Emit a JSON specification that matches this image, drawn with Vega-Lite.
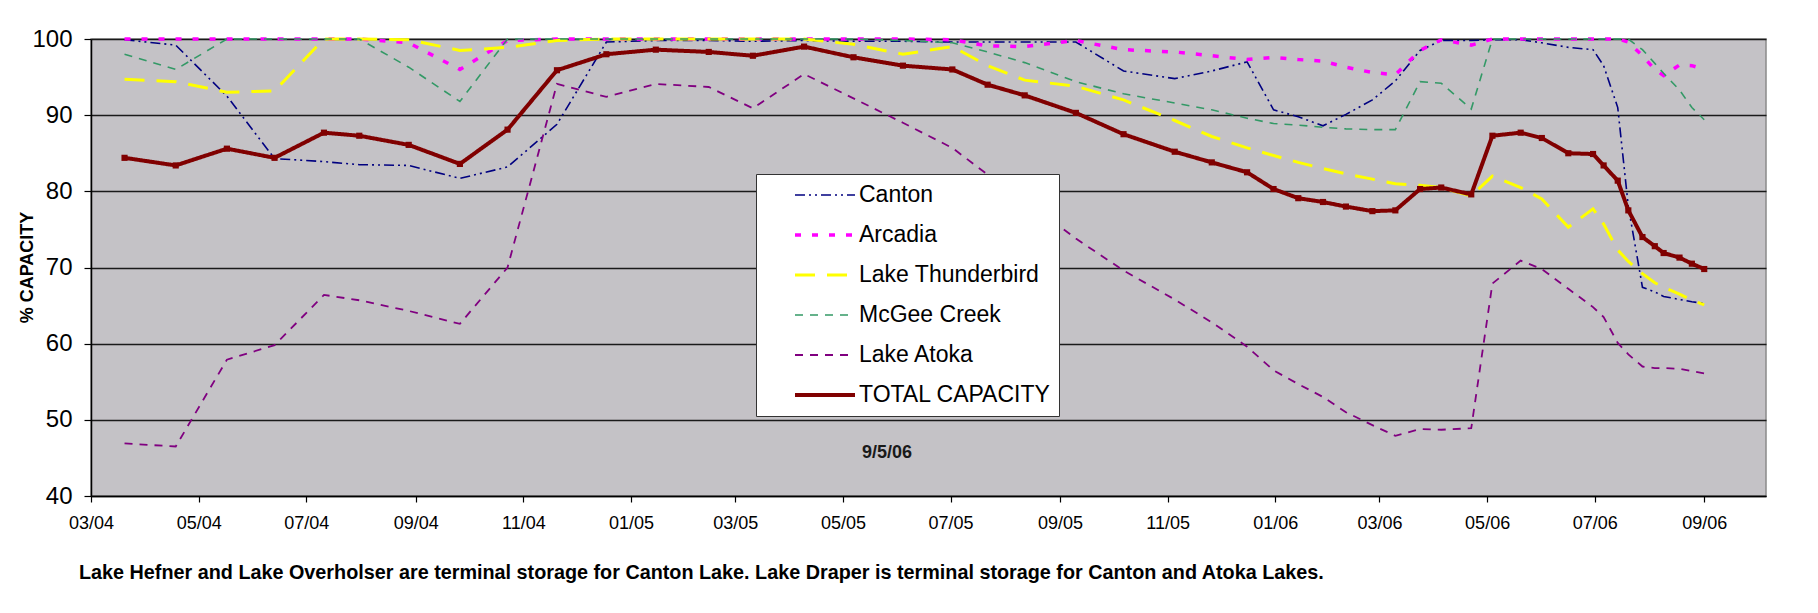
{
  "$schema": "https://vega.github.io/schema/vega-lite/v6.json",
  "width": 1675,
  "height": 457,
  "autosize": {"type": "none"},
  "padding": {"left": 91, "top": 39, "right": 52, "bottom": 117},
  "background": "white",
  "view": {"fill": "#C4C2C6", "stroke": "#8a8a8a", "strokeWidth": 1.5},
  "config": {
    "font": "Liberation Sans",
    "axis": {"labelFont": "Liberation Sans", "titleFont": "Liberation Sans", "labelColor": "black", "titleColor": "black"},
    "legend": {"labelFont": "Liberation Sans"}
  },
  "title": {
    "text": "Lake Hefner and Lake Overholser are terminal storage for Canton Lake. Lake Draper is terminal storage for Canton and Atoka Lakes.",
    "orient": "bottom",
    "anchor": "start",
    "frame": "group",
    "offset": 31,
    "dx": -12,
    "baseline": "top",
    "fontSize": 19.8,
    "fontWeight": "bold",
    "font": "Liberation Sans",
    "color": "black"
  },
  "datasets": {
    "lakes": [
      {"date": "2004-03-20", "Canton": 99.9, "Arcadia": 100, "Lake Thunderbird": 94.7, "McGee Creek": 98.0, "Lake Atoka": 46.9, "TOTAL CAPACITY": 84.4},
      {"date": "2004-04-18", "Canton": 99.2, "Arcadia": 100, "Lake Thunderbird": 94.4, "McGee Creek": 96.0, "Lake Atoka": 46.5, "TOTAL CAPACITY": 83.4},
      {"date": "2004-05-17", "Canton": 92.5, "Arcadia": 100, "Lake Thunderbird": 93.0, "McGee Creek": 100, "Lake Atoka": 57.9, "TOTAL CAPACITY": 85.6},
      {"date": "2004-06-13", "Canton": 84.3, "Arcadia": 100, "Lake Thunderbird": 93.2, "McGee Creek": 100, "Lake Atoka": 59.8, "TOTAL CAPACITY": 84.4},
      {"date": "2004-07-11", "Canton": 83.9, "Arcadia": 100, "Lake Thunderbird": 100, "McGee Creek": 100, "Lake Atoka": 66.4, "TOTAL CAPACITY": 87.7},
      {"date": "2004-07-31", "Canton": 83.5, "Arcadia": 100, "Lake Thunderbird": 100, "McGee Creek": 100, "Lake Atoka": 65.7, "TOTAL CAPACITY": 87.3},
      {"date": "2004-08-28", "Canton": 83.4, "Arcadia": 99.5, "Lake Thunderbird": 99.9, "McGee Creek": 96.3, "Lake Atoka": 64.3, "TOTAL CAPACITY": 86.1},
      {"date": "2004-09-26", "Canton": 81.7, "Arcadia": 96.0, "Lake Thunderbird": 98.5, "McGee Creek": 91.8, "Lake Atoka": 62.6, "TOTAL CAPACITY": 83.6},
      {"date": "2004-10-23", "Canton": 83.2, "Arcadia": 99.8, "Lake Thunderbird": 98.9, "McGee Creek": 100, "Lake Atoka": 70.0, "TOTAL CAPACITY": 88.1},
      {"date": "2004-11-20", "Canton": 88.8, "Arcadia": 100, "Lake Thunderbird": 99.8, "McGee Creek": 100, "Lake Atoka": 94.1, "TOTAL CAPACITY": 95.9},
      {"date": "2004-12-18", "Canton": 99.6, "Arcadia": 100, "Lake Thunderbird": 100, "McGee Creek": 100, "Lake Atoka": 92.4, "TOTAL CAPACITY": 98.0},
      {"date": "2005-01-15", "Canton": 99.8, "Arcadia": 100, "Lake Thunderbird": 100, "McGee Creek": 100, "Lake Atoka": 94.1, "TOTAL CAPACITY": 98.6},
      {"date": "2005-02-14", "Canton": 99.8, "Arcadia": 100, "Lake Thunderbird": 100, "McGee Creek": 100, "Lake Atoka": 93.7, "TOTAL CAPACITY": 98.3},
      {"date": "2005-03-11", "Canton": 99.7, "Arcadia": 100, "Lake Thunderbird": 100, "McGee Creek": 100, "Lake Atoka": 90.9, "TOTAL CAPACITY": 97.8},
      {"date": "2005-04-09", "Canton": 99.8, "Arcadia": 100, "Lake Thunderbird": 100, "McGee Creek": 100, "Lake Atoka": 95.4, "TOTAL CAPACITY": 99.0},
      {"date": "2005-05-07", "Canton": 99.7, "Arcadia": 100, "Lake Thunderbird": 99.3, "McGee Creek": 100, "Lake Atoka": 92.2, "TOTAL CAPACITY": 97.6},
      {"date": "2005-06-04", "Canton": 99.7, "Arcadia": 100, "Lake Thunderbird": 98.0, "McGee Creek": 99.8, "Lake Atoka": 89.0, "TOTAL CAPACITY": 96.5},
      {"date": "2005-07-02", "Canton": 99.6, "Arcadia": 99.9, "Lake Thunderbird": 99.0, "McGee Creek": 99.5, "Lake Atoka": 85.7, "TOTAL CAPACITY": 96.0},
      {"date": "2005-07-22", "Canton": 99.6, "Arcadia": 99.1, "Lake Thunderbird": 96.5, "McGee Creek": 98.3, "Lake Atoka": 82.2, "TOTAL CAPACITY": 94.0},
      {"date": "2005-08-12", "Canton": 99.6, "Arcadia": 99.0, "Lake Thunderbird": 94.6, "McGee Creek": 96.9, "Lake Atoka": 78.8, "TOTAL CAPACITY": 92.6},
      {"date": "2005-09-10", "Canton": 99.6, "Arcadia": 99.8, "Lake Thunderbird": 93.8, "McGee Creek": 94.4, "Lake Atoka": 73.8, "TOTAL CAPACITY": 90.3},
      {"date": "2005-10-07", "Canton": 95.8, "Arcadia": 98.6, "Lake Thunderbird": 92.0, "McGee Creek": 92.8, "Lake Atoka": 69.6, "TOTAL CAPACITY": 87.5},
      {"date": "2005-11-05", "Canton": 94.8, "Arcadia": 98.3, "Lake Thunderbird": 89.3, "McGee Creek": 91.6, "Lake Atoka": 65.8, "TOTAL CAPACITY": 85.2},
      {"date": "2005-11-26", "Canton": 95.8, "Arcadia": 97.8, "Lake Thunderbird": 87.2, "McGee Creek": 90.7, "Lake Atoka": 62.8, "TOTAL CAPACITY": 83.8},
      {"date": "2005-12-16", "Canton": 97.0, "Arcadia": 97.3, "Lake Thunderbird": 85.7, "McGee Creek": 89.6, "Lake Atoka": 59.6, "TOTAL CAPACITY": 82.5},
      {"date": "2005-12-31", "Canton": 90.7, "Arcadia": 97.6, "Lake Thunderbird": 84.7, "McGee Creek": 88.9, "Lake Atoka": 56.5, "TOTAL CAPACITY": 80.3},
      {"date": "2006-01-14", "Canton": 89.8, "Arcadia": 97.3, "Lake Thunderbird": 83.8, "McGee Creek": 88.7, "Lake Atoka": 54.7, "TOTAL CAPACITY": 79.1},
      {"date": "2006-01-28", "Canton": 88.6, "Arcadia": 97.1, "Lake Thunderbird": 83.0, "McGee Creek": 88.4, "Lake Atoka": 53.0, "TOTAL CAPACITY": 78.6},
      {"date": "2006-02-10", "Canton": 90.1, "Arcadia": 96.3, "Lake Thunderbird": 82.3, "McGee Creek": 88.2, "Lake Atoka": 51.0, "TOTAL CAPACITY": 78.0},
      {"date": "2006-02-25", "Canton": 92.0, "Arcadia": 95.6, "Lake Thunderbird": 81.6, "McGee Creek": 88.1, "Lake Atoka": 49.3, "TOTAL CAPACITY": 77.4},
      {"date": "2006-03-10", "Canton": 94.5, "Arcadia": 95.3, "Lake Thunderbird": 81.0, "McGee Creek": 88.1, "Lake Atoka": 47.9, "TOTAL CAPACITY": 77.5},
      {"date": "2006-03-24", "Canton": 98.5, "Arcadia": 98.5, "Lake Thunderbird": 80.8, "McGee Creek": 94.4, "Lake Atoka": 48.8, "TOTAL CAPACITY": 80.3},
      {"date": "2006-04-05", "Canton": 99.8, "Arcadia": 99.9, "Lake Thunderbird": 80.5, "McGee Creek": 94.2, "Lake Atoka": 48.7, "TOTAL CAPACITY": 80.5},
      {"date": "2006-04-22", "Canton": 99.8, "Arcadia": 99.2, "Lake Thunderbird": 79.4, "McGee Creek": 90.8, "Lake Atoka": 48.9, "TOTAL CAPACITY": 79.6},
      {"date": "2006-05-04", "Canton": 99.9, "Arcadia": 100, "Lake Thunderbird": 82.0, "McGee Creek": 100, "Lake Atoka": 67.9, "TOTAL CAPACITY": 87.3},
      {"date": "2006-05-20", "Canton": 99.9, "Arcadia": 100, "Lake Thunderbird": 80.5, "McGee Creek": 100, "Lake Atoka": 70.9, "TOTAL CAPACITY": 87.7},
      {"date": "2006-06-01", "Canton": 99.5, "Arcadia": 100, "Lake Thunderbird": 79.0, "McGee Creek": 100, "Lake Atoka": 69.8, "TOTAL CAPACITY": 87.0},
      {"date": "2006-06-16", "Canton": 98.9, "Arcadia": 100, "Lake Thunderbird": 75.3, "McGee Creek": 100, "Lake Atoka": 67.2, "TOTAL CAPACITY": 85.0},
      {"date": "2006-06-30", "Canton": 98.6, "Arcadia": 100, "Lake Thunderbird": 77.7, "McGee Creek": 100, "Lake Atoka": 64.8, "TOTAL CAPACITY": 84.9},
      {"date": "2006-07-06", "Canton": 96.5, "Arcadia": 100, "Lake Thunderbird": 75.7, "McGee Creek": 100, "Lake Atoka": 63.5, "TOTAL CAPACITY": 83.4},
      {"date": "2006-07-14", "Canton": 91.0, "Arcadia": 100, "Lake Thunderbird": 72.3, "McGee Creek": 100, "Lake Atoka": 60.1, "TOTAL CAPACITY": 81.4},
      {"date": "2006-07-20", "Canton": 78.0, "Arcadia": 99.6, "Lake Thunderbird": 70.8, "McGee Creek": 100, "Lake Atoka": 58.6, "TOTAL CAPACITY": 77.5},
      {"date": "2006-07-28", "Canton": 67.4, "Arcadia": 97.8, "Lake Thunderbird": 69.2, "McGee Creek": 98.6, "Lake Atoka": 57.0, "TOTAL CAPACITY": 74.0},
      {"date": "2006-08-04", "Canton": 66.8, "Arcadia": 96.0, "Lake Thunderbird": 68.0, "McGee Creek": 96.8, "Lake Atoka": 56.8, "TOTAL CAPACITY": 72.8},
      {"date": "2006-08-09", "Canton": 66.2, "Arcadia": 95.2, "Lake Thunderbird": 67.4, "McGee Creek": 95.5, "Lake Atoka": 56.8, "TOTAL CAPACITY": 71.9},
      {"date": "2006-08-18", "Canton": 65.8, "Arcadia": 96.6, "Lake Thunderbird": 66.5, "McGee Creek": 93.3, "Lake Atoka": 56.7, "TOTAL CAPACITY": 71.3},
      {"date": "2006-08-25", "Canton": 65.5, "Arcadia": 96.5, "Lake Thunderbird": 65.7, "McGee Creek": 91.0, "Lake Atoka": 56.4, "TOTAL CAPACITY": 70.5},
      {"date": "2006-09-01", "Canton": 65.3, "Arcadia": 96.0, "Lake Thunderbird": 65.1, "McGee Creek": 89.4, "Lake Atoka": 56.1, "TOTAL CAPACITY": 69.8}
    ],
    "stamp": [
      {"date": "2005-05-26", "value": 45.65, "label": "9/5/06"}
    ]
  },
  "layer": [
    {
      "data": {"name": "lakes"},
      "transform": [
        {"fold": ["Canton", "Arcadia", "Lake Thunderbird", "McGee Creek", "Lake Atoka", "TOTAL CAPACITY"], "as": ["series", "value"]}
      ],
      "mark": {"type": "line", "clip": false, "strokeCap": "butt"},
      "encoding": {
        "x": {
          "field": "date",
          "type": "temporal",
          "scale": {
            "type": "utc",
            "domain": [
              {"year": 2004, "month": 3, "date": 1, "utc": true},
              {"year": 2006, "month": 10, "date": 6, "utc": true}
            ]
          },
          "axis": {
            "values": [
              {"year": 2004, "month": 3, "date": 1, "utc": true},
              {"year": 2004, "month": 5, "date": 1, "utc": true},
              {"year": 2004, "month": 7, "date": 1, "utc": true},
              {"year": 2004, "month": 9, "date": 1, "utc": true},
              {"year": 2004, "month": 11, "date": 1, "utc": true},
              {"year": 2005, "month": 1, "date": 1, "utc": true},
              {"year": 2005, "month": 3, "date": 1, "utc": true},
              {"year": 2005, "month": 5, "date": 1, "utc": true},
              {"year": 2005, "month": 7, "date": 1, "utc": true},
              {"year": 2005, "month": 9, "date": 1, "utc": true},
              {"year": 2005, "month": 11, "date": 1, "utc": true},
              {"year": 2006, "month": 1, "date": 1, "utc": true},
              {"year": 2006, "month": 3, "date": 1, "utc": true},
              {"year": 2006, "month": 5, "date": 1, "utc": true},
              {"year": 2006, "month": 7, "date": 1, "utc": true},
              {"year": 2006, "month": 9, "date": 1, "utc": true}
            ],
            "format": "%m/%y",
            "title": null,
            "grid": false,
            "labelFontSize": 18,
            "labelPadding": 12,
            "labelFlush": false,
            "labelOverlap": false,
            "tickSize": 6,
            "tickColor": "black",
            "tickWidth": 1.2,
            "domainColor": "black",
            "domainWidth": 1.5
          }
        },
        "y": {
          "field": "value",
          "type": "quantitative",
          "scale": {"domain": [40, 100], "nice": false, "zero": false},
          "axis": {
            "values": [40, 50, 60, 70, 80, 90, 100],
            "title": "% CAPACITY",
            "titleFontSize": 18,
            "titleFontWeight": "bold",
            "titleAngle": 270,
            "titleX": -64,
            "titleY": 228,
            "titleAlign": "center",
            "titleBaseline": "middle",
            "labelFontSize": 24,
            "labelPadding": 12,
            "labelFlush": false,
            "tickSize": 7,
            "tickColor": "black",
            "tickWidth": 1.2,
            "domainColor": "black",
            "domainWidth": 1.5,
            "grid": true,
            "gridColor": "#1a1a1a",
            "gridWidth": 1.3
          }
        },
        "color": {
          "field": "series",
          "type": "nominal",
          "scale": {
            "domain": ["Canton", "Arcadia", "Lake Thunderbird", "McGee Creek", "Lake Atoka", "TOTAL CAPACITY"],
            "range": ["#000080", "#FF00FF", "#FFFF00", "#339966", "#800080", "#800000"]
          },
          "legend": {
            "title": null,
            "orient": "none",
            "legendX": 665,
            "legendY": 135,
            "fillColor": "white",
            "strokeColor": "#333333",
            "padding": 8,
            "symbolType": "stroke",
            "symbolSize": 3600,
            "symbolOffset": 29,
            "labelOffset": 2,
            "labelFontSize": 23,
            "labelLimit": 400,
            "labelColor": "black",
            "clipHeight": 26,
            "rowPadding": 14
          }
        },
        "strokeDash": {
          "field": "series",
          "type": "nominal",
          "scale": {
            "domain": ["Canton", "Arcadia", "Lake Thunderbird", "McGee Creek", "Lake Atoka", "TOTAL CAPACITY"],
            "range": [[10, 4, 2, 4, 2, 4], [6, 11], [20, 12], [8, 7], [8, 7], [1, 0]]
          }
        },
        "strokeWidth": {
          "field": "series",
          "type": "nominal",
          "scale": {
            "type": "ordinal",
            "domain": ["Canton", "Arcadia", "Lake Thunderbird", "McGee Creek", "Lake Atoka", "TOTAL CAPACITY"],
            "range": [1.6, 3.5, 3, 1.6, 1.8, 4]
          }
        }
      }
    },
    {
      "data": {"name": "lakes"},
      "mark": {"type": "point", "shape": "square", "filled": true, "size": 38, "color": "#800000", "opacity": 1, "clip": false},
      "encoding": {
        "x": {"field": "date", "type": "temporal"},
        "y": {"field": "TOTAL CAPACITY", "type": "quantitative"}
      }
    },
    {
      "data": {"name": "stamp"},
      "mark": {"type": "text", "fontSize": 18, "fontWeight": "bold", "font": "Liberation Sans", "color": "#1a1a1a", "align": "center", "baseline": "middle"},
      "encoding": {
        "x": {"field": "date", "type": "temporal"},
        "y": {"field": "value", "type": "quantitative"},
        "text": {"field": "label"}
      }
    }
  ]
}
